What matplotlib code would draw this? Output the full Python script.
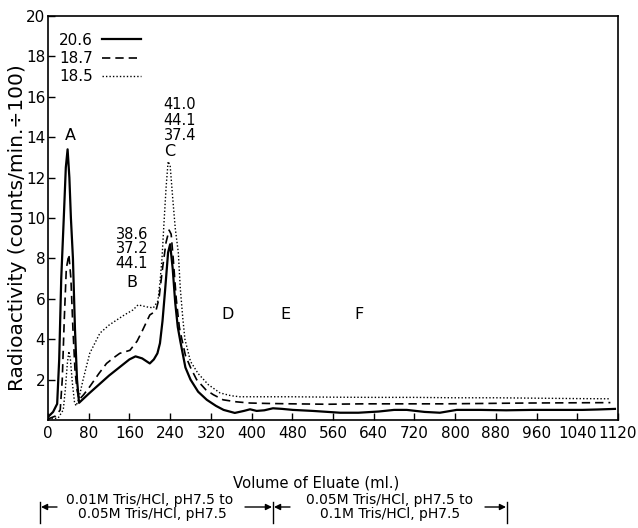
import matplotlib
matplotlib.use("Agg")
import matplotlib.pyplot as plt
from matplotlib.lines import Line2D
from matplotlib.patches import FancyArrowPatch

# ---- data ----
labels = ["20.6", "18.7", "18.5"]

x_solid = [0, 10, 18, 22, 26, 31, 35, 38.5, 42, 45, 49, 53, 57, 61, 80, 100, 120, 140, 160, 172,
           185, 200, 208, 215, 220, 225, 230, 236, 240, 245, 250, 255, 260, 270, 280, 295, 312,
           330, 345, 367, 385, 397, 410, 425, 442, 460, 481, 520, 550, 574, 610, 650, 680, 705,
           740, 770, 803, 850, 900, 950, 1000, 1050, 1080, 1114]
y_solid = [0.15, 0.4, 0.8, 3.0, 7.0, 10.0, 12.5, 13.4, 12.0, 10.0, 8.0, 4.5, 2.0, 0.85, 1.3, 1.75,
           2.2, 2.6, 3.0, 3.15, 3.05, 2.8, 3.0, 3.3, 3.8, 4.9, 6.4, 8.3, 8.7, 7.5, 5.8, 4.6, 3.9,
           2.6, 2.0, 1.4, 1.0, 0.7, 0.5, 0.35, 0.45, 0.53, 0.45, 0.48, 0.58, 0.55, 0.5, 0.45, 0.4,
           0.36, 0.36, 0.42, 0.5, 0.5, 0.4, 0.36, 0.5, 0.5, 0.48, 0.5, 0.5, 0.5, 0.52, 0.55]

x_dash = [0, 15, 24, 28, 32, 36, 41, 45, 49, 53, 57, 61, 70, 82, 100, 115, 130, 141, 161, 175,
          185, 200, 212, 218, 225, 232, 238, 242, 246, 252, 258, 263, 270, 280, 292, 310, 325,
          344, 370, 397, 430, 480, 550, 620, 700, 780, 860, 940, 1020, 1105]
y_dash = [0.05, 0.2, 0.5, 2.0, 5.0, 7.5, 8.2, 7.0, 4.5, 2.5, 1.5, 1.0, 1.25, 1.65, 2.3, 2.8, 3.1,
          3.3, 3.45, 3.9, 4.4, 5.2, 5.4, 6.0, 7.5, 8.8, 9.4, 9.2, 8.0, 6.0, 4.6, 4.0, 3.2, 2.6,
          2.0, 1.5, 1.25, 1.0, 0.9, 0.84, 0.82, 0.8, 0.78, 0.8, 0.8, 0.8, 0.82, 0.84, 0.85, 0.86]

x_dot = [0, 20, 30, 34, 38, 41, 44, 48, 52, 55, 60, 69, 82, 102, 120, 135, 150, 167, 177, 194,
         207, 216, 220, 224, 228, 232, 236, 240, 245, 250, 256, 260, 265, 269, 280, 295, 315,
         338, 360, 377, 400, 480, 560, 640, 720, 800, 880, 960, 1040, 1104]
y_dot = [0.05, 0.1, 0.5, 1.5, 2.8, 3.4, 3.0, 1.8, 0.9, 0.7, 1.0, 2.0, 3.3, 4.3, 4.7, 4.95, 5.2,
         5.45, 5.7, 5.6, 5.55, 5.9, 6.8, 8.0, 9.8, 11.5, 12.8, 12.6, 11.0, 9.5, 8.3, 6.5, 5.0,
         4.0, 2.9, 2.3, 1.75, 1.34, 1.2, 1.15, 1.15, 1.15, 1.13, 1.12, 1.12, 1.1, 1.1, 1.08,
         1.06, 1.05]

x_ticks = list(range(0, 1121, 80))
y_ticks = list(range(2, 21, 2))

peak_names = ["A", "B", "C", "D", "E", "F"]
peak_x = [44, 165, 240, 352, 466, 611]
peak_y = [14.1, 6.83, 13.27, 5.2, 5.2, 5.2]
b_numbers = ["38.6", "37.2", "44.1"]
b_num_y = [9.16, 8.47, 7.77]
c_numbers = ["41.0", "44.1", "37.4"]
c_num_y = [15.6, 14.85, 14.1]

# ---- figure ----
plt.rcParams['font.family'] = ['DejaVu Sans']
fig = plt.figure(figsize=(6.38, 5.28), dpi=100)
ax = fig.add_axes([48 / 638, 1 - 420 / 528, 570 / 638, 404 / 528])

l1, = ax.plot(x_solid, y_solid, color='black', lw=1.6, ls='-')
l2, = ax.plot(x_dash, y_dash, color='black', lw=1.2, ls=(0, (5, 3)))
l3, = ax.plot(x_dot, y_dot, color='black', lw=1.0, ls=(0, (1, 1.5)))

ax.set_xlim(0, 1120)
ax.set_ylim(0, 20)
ax.set_xticks(x_ticks)
ax.set_xticklabels([str(v) for v in x_ticks])
ax.set_yticks(y_ticks)
ax.set_yticklabels([str(v) for v in y_ticks])
ax.tick_params(axis='both', direction='in', length=5, width=1.0, labelsize=11)
ax.tick_params(axis='y', pad=2)
ax.tick_params(axis='x', pad=4)
for s in ax.spines.values():
    s.set_linewidth(1.2)

ax.set_ylabel("Radioactivity (counts/min.\u00f7100)", fontsize=14.5)
ax.yaxis.set_label_coords((27 - 48) / 570, 0.475)
ax.set_xlabel("Volume of Eluate (ml.)", fontsize=10.7)
ax.xaxis.set_label_coords(0.47, -(476 - 420) / 404)

leg = ax.legend([l1, l2, l3], labels, loc='upper left', bbox_to_anchor=(0.0, 0.985),
                markerfirst=False, frameon=False, handlelength=2.6, handletextpad=0.6,
                labelspacing=0.22, fontsize=11, borderaxespad=0.3)

for name, px, py in zip(peak_names, peak_x, peak_y):
    ax.text(px, py, name, ha='center', va='center', fontsize=11.5)

for t, yy in zip(b_numbers, b_num_y):
    ax.text(165, yy, t, ha='center', va='center', fontsize=10.5)
for t, yy in zip(c_numbers, c_num_y):
    ax.text(259, yy, t, ha='center', va='center', fontsize=10.5)

# ---- buffer bracket below axis ----
def fy(py):
    return 1 - py / 528

def fx(px):
    return px / 638

fs = 10
fig.text(fx(150), fy(500), "0.01M Tris/HCl, pH7.5 to", ha='center', va='center', fontsize=fs)
fig.text(fx(152), fy(514), "0.05M Tris/HCl, pH7.5", ha='center', va='center', fontsize=fs)
fig.text(fx(390), fy(500), "0.05M Tris/HCl, pH7.5 to", ha='center', va='center', fontsize=fs)
fig.text(fx(390), fy(514), "0.1M Tris/HCl, pH7.5", ha='center', va='center', fontsize=fs)

for bx in (40, 273, 507):
    fig.add_artist(Line2D([fx(bx), fx(bx)], [fy(502), fy(523)], color='black', lw=1.0,
                          transform=fig.transFigure))

arrows = [(57, 41), (245, 272), (290, 274), (485, 506)]
for x0, x1 in arrows:
    fig.add_artist(FancyArrowPatch(
        (fx(x0), fy(507)), (fx(x1), fy(507)), transform=fig.transFigure,
        arrowstyle='-|>', mutation_scale=9, color='black', lw=1.0,
        shrinkA=0, shrinkB=0))

fig.savefig("out.png", dpi=100)
